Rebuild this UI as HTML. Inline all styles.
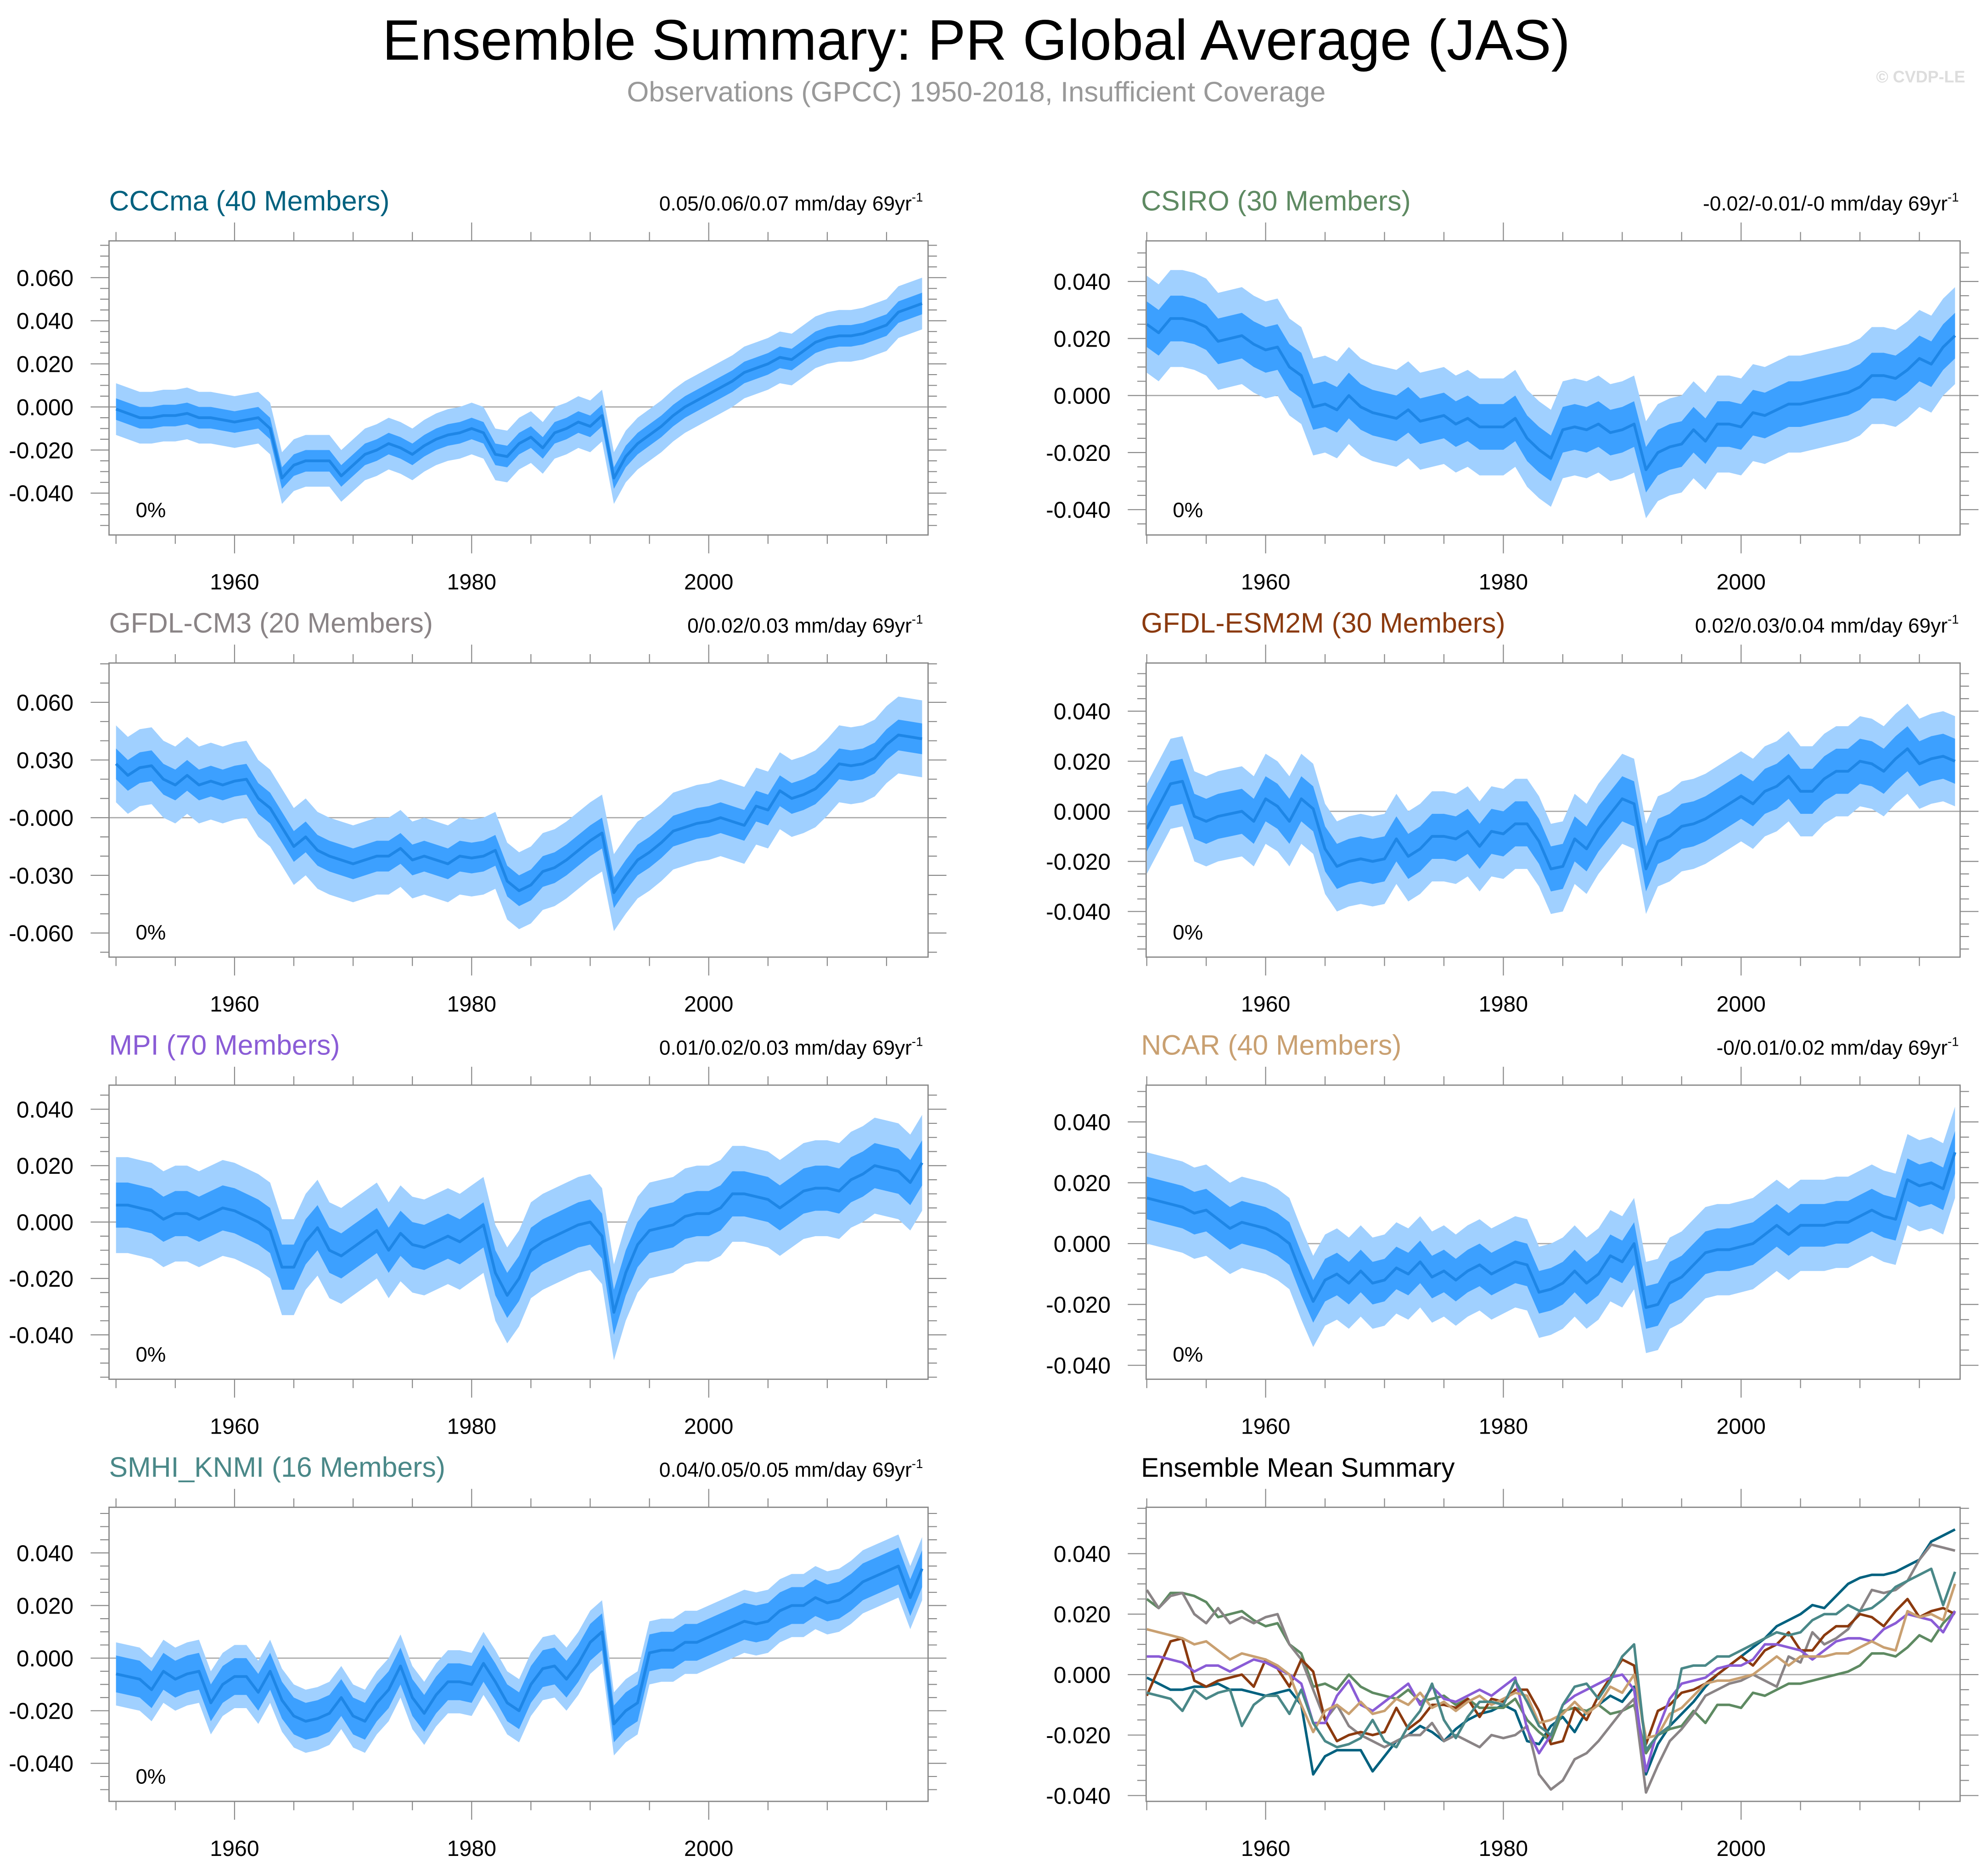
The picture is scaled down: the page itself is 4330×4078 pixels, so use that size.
<!DOCTYPE html>
<html><head><meta charset="utf-8"><style>
html,body{margin:0;padding:0;background:#fff}
svg{display:block}
text{font-family:"Liberation Sans",sans-serif}
</style></head><body>
<svg id="chart" width="4330" height="4078" viewBox="0 0 1568 1476.7" xmlns="http://www.w3.org/2000/svg">
<rect width="1568" height="1477" fill="#fff"/>
<text x="770" y="47" font-size="45" text-anchor="middle">Ensemble Summary: PR Global Average (JAS)</text>
<text x="770" y="80" font-size="22.3" text-anchor="middle" fill="#999">Observations (GPCC) 1950-2018, Insufficient Coverage</text>
<text x="1550" y="65" font-size="13" font-weight="bold" text-anchor="end" fill="#ddd">© CVDP-LE</text>
</svg>
<script>
const years = [];
for (let y = 1950; y <= 2018; y++) years.push(y);
// ensemble means (units of 0.001 mm/day)
const meanCCCma = [-1,-3,-5,-5,-4,-4,-3,-5,-5,-6, -7,-6,-5,-10,-33,-27,-25,-25,-25,-32, -27,-22,-20,-17,-19,-22,-18,-15,-13,-12, -10,-12,-22,-23,-17,-14,-19,-12,-10,-7, -9,-4,-33,-23,-17,-13,-9,-4,0,3, 6,9,12,16,18,20,23,22,26,30, 32,33,33,34,36,38,44,46,48];
const meanCSIRO = [25,22,27,27,26,24,19,20,21,18, 16,17,10,7,-4,-3,-5,0,-4,-6, -7,-8,-5,-9,-8,-7,-10,-8,-11,-11, -11,-8,-15,-19,-22,-12,-11,-12,-10,-13, -12,-10,-26,-20,-18,-17,-12,-16,-10,-10, -11,-6,-7,-5,-3,-3,-2,-1,0,1, 3,7,7,6,9,13,11,17,21];
const meanCM3 = [28,22,26,27,20,17,22,17,19,17, 19,20,10,5,-5,-15,-10,-17,-20,-22, -24,-22,-20,-20,-16,-22,-20,-22,-24,-20, -21,-20,-17,-33,-38,-35,-28,-26,-22,-17, -12,-8,-39,-30,-22,-18,-13,-7,-5,-3, -2,0,-2,-4,6,4,14,10,12,15, 21,28,27,28,31,38,43,42,41];
const meanESM2M = [-7,2,11,12,-2,-4,-2,-1,0,-4, 5,2,-4,5,1,-15,-22,-20,-19,-20, -19,-11,-18,-15,-10,-10,-11,-8,-14,-8, -9,-5,-5,-12,-23,-22,-11,-15,-7,-1, 5,3,-23,-12,-10,-6,-5,-3,0,3, 6,3,8,10,14,8,8,13,16,16, 20,19,16,21,25,19,21,22,20];
const meanMPI = [6,6,5,4,1,3,3,1,3,5, 4,2,0,-3,-16,-16,-7,-2,-10,-12, -9,-6,-3,-10,-4,-8,-9,-7,-5,-7, -4,-1,-18,-26,-20,-10,-7,-5,-3,-1, 0,-5,-32,-18,-8,-3,-2,-1,2,3, 3,5,10,10,9,8,5,8,11,12, 12,11,15,17,20,19,18,14,21];
const meanNCAR = [15,14,13,12,10,11,8,5,7,6, 5,3,0,-10,-19,-12,-10,-13,-9,-13, -12,-8,-10,-6,-11,-9,-12,-9,-7,-10, -8,-6,-7,-16,-15,-13,-9,-13,-10,-4, -6,0,-21,-20,-13,-11,-7,-3,-2,-2, -1,0,3,6,3,6,6,6,7,7, 9,11,9,8,21,19,20,18,30];
const meanSMHI = [-6,-7,-8,-12,-5,-8,-6,-5,-17,-10, -7,-7,-13,-5,-16,-22,-24,-23,-21,-15, -22,-24,-17,-12,-3,-15,-21,-14,-9,-9, -10,-2,-9,-17,-20,-10,-4,-3,-8,-2, 6,10,-25,-20,-17,2,3,3,6,6, 8,10,12,14,13,14,18,20,20,23, 21,22,25,29,31,33,35,23,34];
// spreads (units of 0.001): inner (25-75%), outer (10-90%) half-widths
const innerSpread = [5,8,8,9,8,7,7];
const outerSpread = [12,17,20,18,17,15,12];
const modelNames = ["CCCma (40 Members)","CSIRO (30 Members)","GFDL-CM3 (20 Members)","GFDL-ESM2M (30 Members)","MPI (70 Members)","NCAR (40 Members)","SMHI_KNMI (16 Members)"];
const trendLabels = ["0.05/0.06/0.07","-0.02/-0.01/-0","0/0.02/0.03","0.02/0.03/0.04","0.01/0.02/0.03","-0/0.01/0.02","0.04/0.05/0.05"];
const xTickLabels = [1960,1980,2000];
const yTickCCCma = [0.060,0.040,0.020,0.000,-0.020,-0.040];
const yTickCSIRO = [0.040,0.020,0.000,-0.020,-0.040];
const yTickCM3 = [0.060,0.030,-0.000,-0.030,-0.060];
const yTickESM2M = [0.040,0.020,0.000,-0.020,-0.040];
const yTickMPI = [0.040,0.020,0.000,-0.020,-0.040];
const yTickNCAR = [0.040,0.020,0.000,-0.020,-0.040];
const yTickSMHI = [0.040,0.020,0.000,-0.020,-0.040];
const yTickSummary = [0.040,0.020,0.000,-0.020,-0.040];

const means = [meanCCCma,meanCSIRO,meanCM3,meanESM2M,meanMPI,meanNCAR,meanSMHI];
const yTicksAll = [yTickCCCma,yTickCSIRO,yTickCM3,yTickESM2M,yTickMPI,yTickNCAR,yTickSMHI];
const colors = ["#00617f","#5e8a62","#8a8486","#8b3a0f","#8a5cd6","#c9a071","#4a8888"];
const slugs = ["cccma","csiro","gfdl-cm3","gfdl-esm2m","mpi","ncar","smhi-knmi"];
const zeroY = [321,312,645,640,964,981,1308];
const pxPerUnit = [34/0.02,45/0.02,45.5/0.03,39.5/0.02,44.5/0.02,48/0.02,41.5/0.02];
const minorStep = [0.005,0.005,0.01,0.005,0.005,0.005,0.005];

const NS = "http://www.w3.org/2000/svg";
const svg = document.getElementById("chart");
function mk(tag, attrs, parent){const e=document.createElementNS(NS,tag);for(const k in attrs)e.setAttribute(k,attrs[k]);(parent||svg).appendChild(e);return e;}

function drawPanel(i, col, row, isSummary){
  const L = col===0?86:904, R = col===0?732:1546;
  const top = 190+333*row, bot = 422+333*row;
  const x0 = col===0?91.5:904.5, xs = col===0?9.35:9.375;
  const xScale = yr => x0 + (yr-1950)*xs;
  const z = isSummary?1321:zeroY[i];
  const ppu = isSummary?47.7/0.02:pxPerUnit[i];
  const yScale = v => z - v*ppu;
  const g = mk("g",{});
  
  
  const clipId = "clip"+row+"_"+col;
  const cp = mk("clipPath",{id:clipId},g); mk("rect",{x:L,y:top,width:R-L,height:bot-top},cp);
  const plot = mk("g",{"clip-path":"url(#"+clipId+")"},g);
  const zl = mk("line",{x1:L,x2:R,y1:yScale(0),y2:yScale(0),stroke:"#aaa","stroke-width":1},plot);
  
  
  if(!isSummary){
    const m = means[i];
    const band = (w, fill, name) => {
      let d = "";
      m.forEach((v,k)=>{d += (k?"L":"M")+xScale(years[k])+","+yScale((v+w)/1000);});
      for(let k=m.length-1;k>=0;k--) d += "L"+xScale(years[k])+","+yScale((m[k]-w)/1000);
      const p = mk("path",{d:d+"Z",fill:fill},plot);
      
      
    };
    band(outerSpread[i],"#a0d0ff","outer-spread-band");
    band(innerSpread[i],"#3ca0ff","inner-spread-band");
    let d="";
    m.forEach((v,k)=>{d += (k?"L":"M")+xScale(years[k])+","+yScale(v/1000);});
    const ln = mk("path",{d:d,fill:"none",stroke:"#1e86e6","stroke-width":2.2,"stroke-linejoin":"round"},plot);
    
    
  } else {
    means.forEach((m,j)=>{
      let d="";
      m.forEach((v,k)=>{d += (k?"L":"M")+xScale(years[k])+","+yScale(v/1000);});
      const ln = mk("path",{d:d,fill:"none",stroke:colors[j],"stroke-width":2,"stroke-linejoin":"round"},plot);
      
      
    });
  }
  const box = mk("rect",{x:L,y:top,width:R-L,height:bot-top,fill:"none",stroke:"#888","stroke-width":1},g);
  
  
  for(let yr=1950; yr<=2018; yr+=5){
    const x = xScale(yr), len = (yr%20===0)?14.5:7;
    mk("line",{x1:x,x2:x,y1:top,y2:top-len,stroke:"#888","stroke-width":0.8},g);
    mk("line",{x1:x,x2:x,y1:bot,y2:bot+len,stroke:"#888","stroke-width":0.8},g);
  }
  xTickLabels.forEach(yr=>{
    const t = mk("text",{x:xScale(yr),y:bot+43,"font-size":17.5,"text-anchor":"middle"},g);
    t.textContent = yr;
    
    
  });
  const step = isSummary?0.005:minorStep[i];
  const vTop = (z-top)/ppu, vBot = (z-bot)/ppu;
  for(let n=Math.ceil(vBot/step); n*step<=vTop; n++){
    const v = n*step, y = yScale(v);
    const major = isSummary||i!==2 ? Math.abs(Math.round(v/0.02)*0.02-v)<1e-9 : Math.abs(Math.round(v/0.03)*0.03-v)<1e-9;
    const len = major?14.5:7;
    mk("line",{x1:L,x2:L-len,y1:y,y2:y,stroke:"#888","stroke-width":0.8},g);
    mk("line",{x1:R,x2:R+len,y1:y,y2:y,stroke:"#888","stroke-width":0.8},g);
  }
  const ticks = isSummary?yTickSummary:yTicksAll[i];
  ticks.forEach((v,k)=>{
    const t = mk("text",{x:L-28,y:yScale(Math.abs(v)<1e-12?0:v)+6.5,"font-size":18,"text-anchor":"end"},g);
    t.textContent = (i===2 && !isSummary && Math.abs(v)<1e-12) ? "-0.000" : v.toFixed(3);
    
    
  });
  const tx = col===0?L:900;
  const tt = mk("text",{x:tx,y:top-24,"font-size":isSummary?21:22,fill:isSummary?"#000":colors[i]},g);
  tt.textContent = isSummary?"Ensemble Mean Summary":modelNames[i];
  
  
  if(!isSummary){
    const tr = mk("text",{x:col===0?L+642:1545,y:top-24,"font-size":16,"text-anchor":"end"},g);
    tr.textContent = trendLabels[i]+" mm/day 69yr";
    const sup = mk("tspan",{"font-size":10,dy:-7},tr); sup.textContent="-1";
    
    
    const pc = mk("text",{x:L+21,y:bot-14,"font-size":16.5},g);
    pc.textContent = "0%";
    
    
  }
}
const layout = [[0,0],[1,0],[0,1],[1,1],[0,2],[1,2],[0,3]];
layout.forEach((p,i)=>drawPanel(i,p[0],p[1],false));
drawPanel(7,1,3,true);
</script>
</body></html>
